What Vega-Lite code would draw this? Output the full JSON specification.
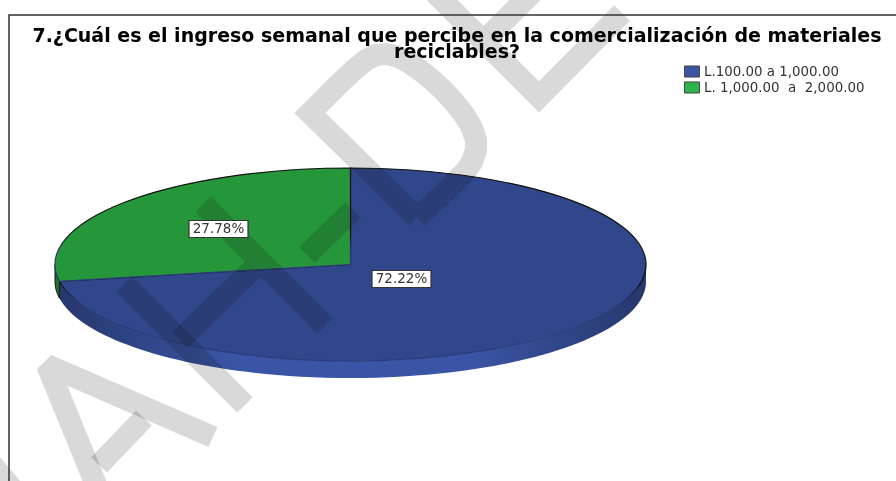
{
"$schema":"https://vega.github.io/schema/vega-lite/v6.json",
"width":896,"height":481,"padding":0,"autosize":"none","background":"#ffffff",
"title":{"text":["7.¿Cuál es el ingreso semanal que percibe en la comercialización de materiales","reciclables?"],"orient":"bottom","font":"DejaVu Sans","fontWeight":"bold","fontSize":19,"lineHeight":16,"color":"#000000","anchor":"middle","baseline":"alphabetic","frame":"group","dx":9,"offset":-472},
"config":{"view":{"stroke":null},"axis":{"domain":false,"ticks":false,"labels":false,"grid":false,"title":null}},
"datasets":{
"slices":[{"category":"L.100.00 a 1,000.00","share":0.7222},{"category":"L. 1,000.00  a  2,000.00","share":0.2778}],
"watermark":[
{"g":"A legs","s":1,"x":213,"y":437},{"g":"A legs","s":2,"x":47,"y":365},{"g":"A legs","s":3,"x":96,"y":485},
{"g":"A bar","s":1,"x":144,"y":418},{"g":"A bar","s":2,"x":99,"y":465},
{"g":"A foot","s":1,"x":-8.5,"y":464},{"g":"A foot","s":2,"x":15,"y":492},
{"g":"H1","s":1,"x":124,"y":284},{"g":"H1","s":2,"x":245,"y":405},
{"g":"H2","s":1,"x":203,"y":204},{"g":"H2","s":2,"x":325,"y":326},
{"g":"H3","s":1,"x":180,"y":340},{"g":"H3","s":2,"x":253,"y":269},
{"g":"T","s":1,"x":353,"y":210},{"g":"T","s":2,"x":307,"y":255},
{"g":"D","s":1,"x":417,"y":218},{"g":"D","s":2,"x":310,"y":113},{"g":"D","s":3,"x":322,"y":101},{"g":"D","s":4,"x":340,"y":83},{"g":"D","s":5,"x":355,"y":69},{"g":"D","s":6,"x":366,"y":60},{"g":"D","s":7,"x":376,"y":55},{"g":"D","s":8,"x":386,"y":54},{"g":"D","s":9,"x":396,"y":56},{"g":"D","s":10,"x":408,"y":62},{"g":"D","s":11,"x":420,"y":70},{"g":"D","s":12,"x":432,"y":80},{"g":"D","s":13,"x":444,"y":91},{"g":"D","s":14,"x":455,"y":103},{"g":"D","s":15,"x":465,"y":116},{"g":"D","s":16,"x":472,"y":128},{"g":"D","s":17,"x":476,"y":140},{"g":"D","s":18,"x":476,"y":150},{"g":"D","s":19,"x":472,"y":162},{"g":"D","s":20,"x":465,"y":172},{"g":"D","s":21,"x":455,"y":182},{"g":"D","s":22,"x":445,"y":192},{"g":"D","s":23,"x":417,"y":218},
{"g":"E","s":1,"x":420,"y":-22},{"g":"E","s":2,"x":539,"y":97},{"g":"E","s":3,"x":622,"y":13},
{"g":"E2","s":1,"x":491,"y":34},{"g":"E2","s":2,"x":545,"y":-20}
],
"frame":[{"s":1,"x":9,"y":481},{"s":2,"x":9,"y":15},{"s":3,"x":896,"y":15}]
},
"layer":[
{"data":{"name":"slices"},
 "mark":{"type":"point","filled":true,"size":4,"opacity":1},
 "encoding":{
  "x":{"datum":350.5,"type":"quantitative","scale":{"domain":[0,896]},"axis":null},
  "y":{"datum":264.5,"type":"quantitative","scale":{"domain":[0,481],"reverse":true},"axis":null},
  "shape":{"field":"category","type":"nominal","legend":null,"scale":{"domain":["L.100.00 a 1,000.00","L. 1,000.00  a  2,000.00"],"range":["M-291,16.8A295.5,96.5 0 0 0 295.5,0L295.5,17A295.5,96.5 0 0 1 -291,33.8Z","M-295.5,0A295.5,96.5 0 0 0 -291,16.8L-291,33.8A295.5,96.5 0 0 1 -295.5,17Z"]}},
  "color":{"field":"category","type":"nominal","sort":null,"scale":{"domain":["L.100.00 a 1,000.00","L. 1,000.00  a  2,000.00"],"range":["#3a55a5","#2cb44a"]},
   "legend":{"title":null,"orient":"none","legendX":685,"legendY":64.5,"symbolType":"M-1.15,-0.85H1.15V0.85H-1.15Z","symbolSize":169,"symbolStrokeColor":"#444444","symbolStrokeWidth":1,"labelFont":"DejaVu Sans","labelFontSize":13.4,"labelColor":"#333333","labelOffset":5,"rowPadding":0,"padding":0,"labelLimit":300,"labelExpr":"replace(datum.label, /  /g, '\u00a0\u00a0')"}}
 }},
{"data":{"name":"slices"},
 "mark":{"type":"point","filled":true,"size":4,"opacity":1,"fill":{"gradient":"linear","x1":0,"y1":0,"x2":1,"y2":0,"stops":[{"offset":0,"color":"rgba(0,0,0,0.35)"},{"offset":0.3,"color":"rgba(0,0,0,0)"},{"offset":0.7,"color":"rgba(0,0,0,0)"},{"offset":1,"color":"rgba(0,0,0,0.35)"}]}},
 "encoding":{
  "x":{"datum":350.5,"type":"quantitative","scale":{"domain":[0,896]},"axis":null},
  "y":{"datum":264.5,"type":"quantitative","scale":{"domain":[0,481],"reverse":true},"axis":null},
  "shape":{"field":"category","type":"nominal","legend":null,"scale":{"domain":["L.100.00 a 1,000.00","L. 1,000.00  a  2,000.00"],"range":["M-291,16.8A295.5,96.5 0 0 0 295.5,0L295.5,17A295.5,96.5 0 0 1 -291,33.8Z","M-295.5,0A295.5,96.5 0 0 0 -291,16.8L-291,33.8A295.5,96.5 0 0 1 -295.5,17Z"]}}
 }},
{"data":{"name":"slices"},"transform":[{"filter":"datum.share < 0.5"}],
 "mark":{"type":"point","filled":true,"size":4,"opacity":1,"fill":"rgba(0,0,0,0.35)","stroke":"#1a1a1a","strokeWidth":1,"shape":"M-295.5,0A295.5,96.5 0 0 0 -291,16.8L-291,33.8A295.5,96.5 0 0 1 -295.5,17Z"},
 "encoding":{
  "x":{"datum":350.5,"type":"quantitative","scale":{"domain":[0,896]},"axis":null},
  "y":{"datum":264.5,"type":"quantitative","scale":{"domain":[0,481],"reverse":true},"axis":null}
 }},
{"data":{"name":"slices"},
 "mark":{"type":"point","filled":true,"size":4,"opacity":1,"strokeWidth":1.2,"stroke":{"gradient":"linear","x1":0,"y1":0,"x2":0,"y2":1,"stops":[{"offset":0,"color":"#111111"},{"offset":0.6,"color":"#111111"},{"offset":0.72,"color":"#2a3a78"},{"offset":1,"color":"#2a3a78"}]}},
 "encoding":{
  "x":{"datum":350.5,"type":"quantitative","scale":{"domain":[0,896]},"axis":null},
  "y":{"datum":264.5,"type":"quantitative","scale":{"domain":[0,481],"reverse":true},"axis":null},
  "shape":{"field":"category","type":"nominal","legend":null,"scale":{"domain":["L.100.00 a 1,000.00","L. 1,000.00  a  2,000.00"],"range":["M0,0L0,-96.5A295.5,96.5 0 1 1 -291,16.8Z","M0,0L0,-96.5A295.5,96.5 0 0 0 -291,16.8Z"]}},
  "fill":{"field":"category","type":"nominal","legend":null,"scale":{"domain":["L.100.00 a 1,000.00","L. 1,000.00  a  2,000.00"],"range":["#31478b","#26963b"]}}
 }},
{"data":{"name":"watermark"},
 "mark":{"type":"line","stroke":"#d9d9d9","strokeWidth":22,"strokeCap":"butt","strokeJoin":"miter","strokeMiterLimit":2,"blend":"multiply"},
 "encoding":{
  "x":{"field":"x","type":"quantitative","scale":{"domain":[0,896]},"axis":null},
  "y":{"field":"y","type":"quantitative","scale":{"domain":[0,481],"reverse":true},"axis":null},
  "detail":{"field":"g"},"order":{"field":"s"}
 }},
{"data":{"name":"frame"},
 "mark":{"type":"line","stroke":"#333333","strokeWidth":1.5,"strokeJoin":"miter"},
 "encoding":{
  "x":{"field":"x","type":"quantitative","scale":{"domain":[0,896]},"axis":null},
  "y":{"field":"y","type":"quantitative","scale":{"domain":[0,481],"reverse":true},"axis":null},
  "order":{"field":"s"}
 }},
{"data":{"name":"slices"},"transform":[{"filter":"datum.share > 0.5"}],
 "layer":[
  {"mark":{"type":"point","shape":"M-29.5,-8.5H29.5V8.5H-29.5Z","size":4,"filled":true,"opacity":1,"fill":"#ffffff","stroke":"#333333","strokeWidth":1.2}},
  {"mark":{"type":"text","font":"DejaVu Sans","fontSize":13.5,"color":"#333333","baseline":"middle","align":"center"},"encoding":{"text":{"field":"share","format":".2%"}}}
 ],
 "encoding":{
  "x":{"datum":401.5,"type":"quantitative","scale":{"domain":[0,896]},"axis":null},
  "y":{"datum":279,"type":"quantitative","scale":{"domain":[0,481],"reverse":true},"axis":null}
 }},
{"data":{"name":"slices"},"transform":[{"filter":"datum.share < 0.5"}],
 "layer":[
  {"mark":{"type":"point","shape":"M-29.5,-8.5H29.5V8.5H-29.5Z","size":4,"filled":true,"opacity":1,"fill":"#ffffff","stroke":"#333333","strokeWidth":1.2}},
  {"mark":{"type":"text","font":"DejaVu Sans","fontSize":13.5,"color":"#333333","baseline":"middle","align":"center"},"encoding":{"text":{"field":"share","format":".2%"}}}
 ],
 "encoding":{
  "x":{"datum":218.5,"type":"quantitative","scale":{"domain":[0,896]},"axis":null},
  "y":{"datum":229,"type":"quantitative","scale":{"domain":[0,481],"reverse":true},"axis":null}
 }}
],
"resolve":{"scale":{"shape":"independent"}}
}
